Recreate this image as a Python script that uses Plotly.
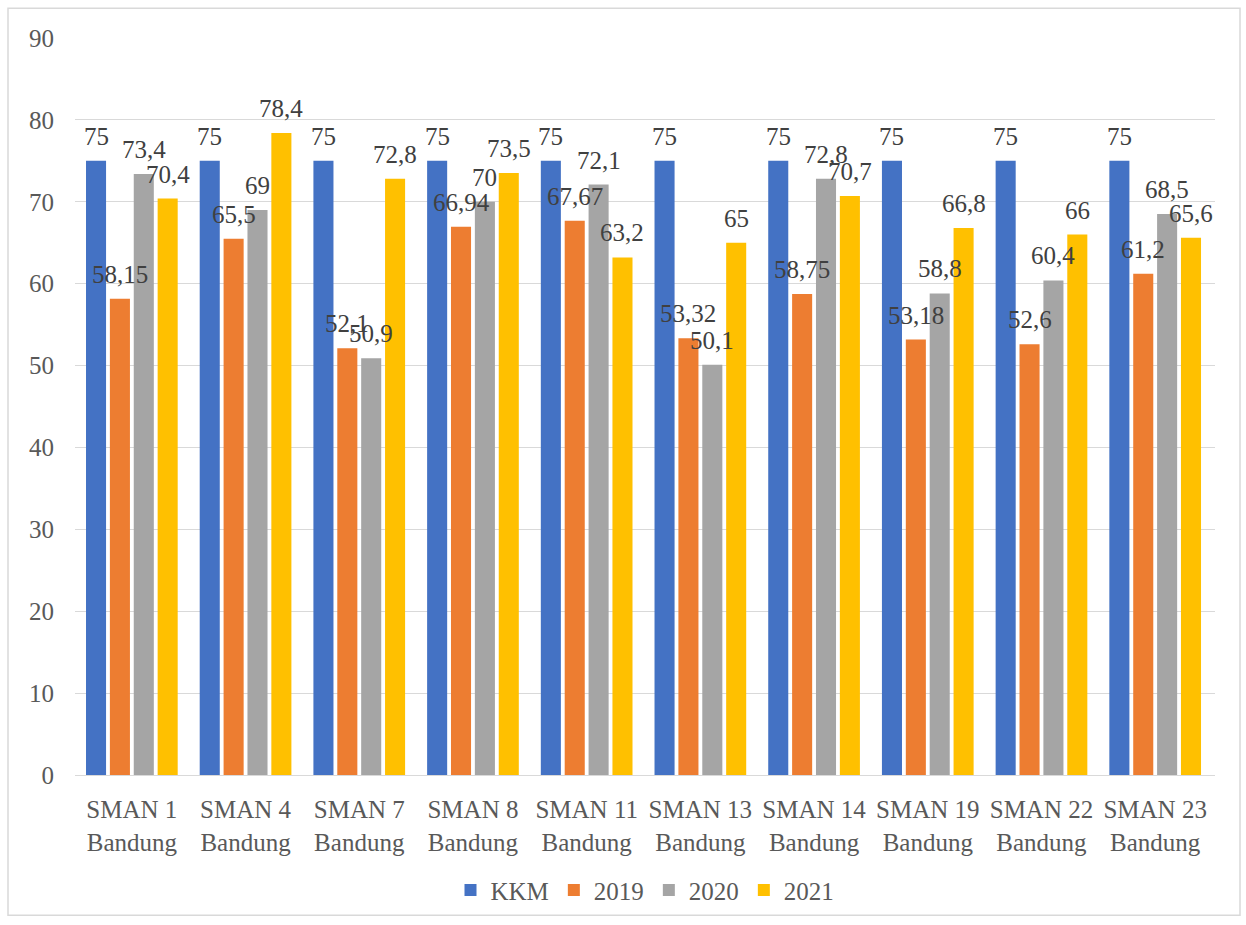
import plotly.graph_objects as go

categories = ["SMAN 1<br>Bandung", "SMAN 4<br>Bandung", "SMAN 7<br>Bandung", "SMAN 8<br>Bandung",
              "SMAN 11<br>Bandung", "SMAN 13<br>Bandung", "SMAN 14<br>Bandung", "SMAN 19<br>Bandung",
              "SMAN 22<br>Bandung", "SMAN 23<br>Bandung"]
kkm = [75, 75, 75, 75, 75, 75, 75, 75, 75, 75]
y2019 = [58.15, 65.5, 52.1, 66.94, 67.67, 53.32, 58.75, 53.18, 52.6, 61.2]
y2020 = [73.4, 69, 50.9, 70, 72.1, 50.1, 72.8, 58.8, 60.4, 68.5]
y2021 = [70.4, 78.4, 72.8, 73.5, 63.2, 65, 70.7, 66.8, 66, 65.6]

series = [("KKM", kkm, "#4472C4"), ("2019", y2019, "#ED7D31"),
          ("2020", y2020, "#A5A5A5"), ("2021", y2021, "#FFC000")]

FONT = "'Liberation Serif', 'Times New Roman', Times, serif"
BARGAP = 0.16
BARGROUPGAP = 0.16


def fmt(v):
    return ("%g" % v).replace(".", ",")


fig = go.Figure()
for name, vals, col in series:
    fig.add_trace(go.Bar(name=name, x=categories, y=vals, marker_color=col,
                         marker_line_width=0))

# data labels drawn on top of all bars, centred over each bar
n = len(series)
slot = (1 - BARGAP) / n
for k, (name, vals, col) in enumerate(series):
    for i, v in enumerate(vals):
        fig.add_annotation(x=i + (k - (n - 1) / 2) * slot, y=v, xref="x", yref="y",
                           text=fmt(v), showarrow=False, yanchor="bottom", xanchor="center",
                           yshift=9,
                           font=dict(family=FONT, size=25, color="#404040"))

fig.update_layout(
    barmode="group", bargap=BARGAP, bargroupgap=BARGROUPGAP,
    width=1246, height=925,
    margin=dict(l=75, r=31, t=38, b=146),
    paper_bgcolor="white", plot_bgcolor="white",
    font=dict(family=FONT, size=25, color="#595959"),
    showlegend=True,
    legend=dict(orientation="h", x=0.5, xanchor="center", y=-0.125, yanchor="top",
                font=dict(family=FONT, size=25, color="#595959"),
                itemwidth=30, traceorder="normal"),
)
fig.update_yaxes(range=[0, 90], dtick=10, showgrid=True, gridcolor="#D9D9D9", gridwidth=1,
                 zeroline=False, showline=False, ticks="", ticklabelstandoff=20,
                 tickfont=dict(family=FONT, size=25, color="#595959"))
fig.update_xaxes(showline=True, linecolor="#D9D9D9", linewidth=1, ticks="",
                 ticklabelstandoff=12,
                 tickfont=dict(family=FONT, size=25, color="#595959"))

fig.add_shape(type="rect", xref="paper", yref="paper",
              x0=(8 - 75) / 1140, x1=(1240 - 75) / 1140,
              y0=(779 - 920) / 741, y1=(779 - 8) / 741,
              line=dict(color="#D9D9D9", width=1.5), fillcolor="rgba(0,0,0,0)", layer="below")

fig.write_html("out.html")
